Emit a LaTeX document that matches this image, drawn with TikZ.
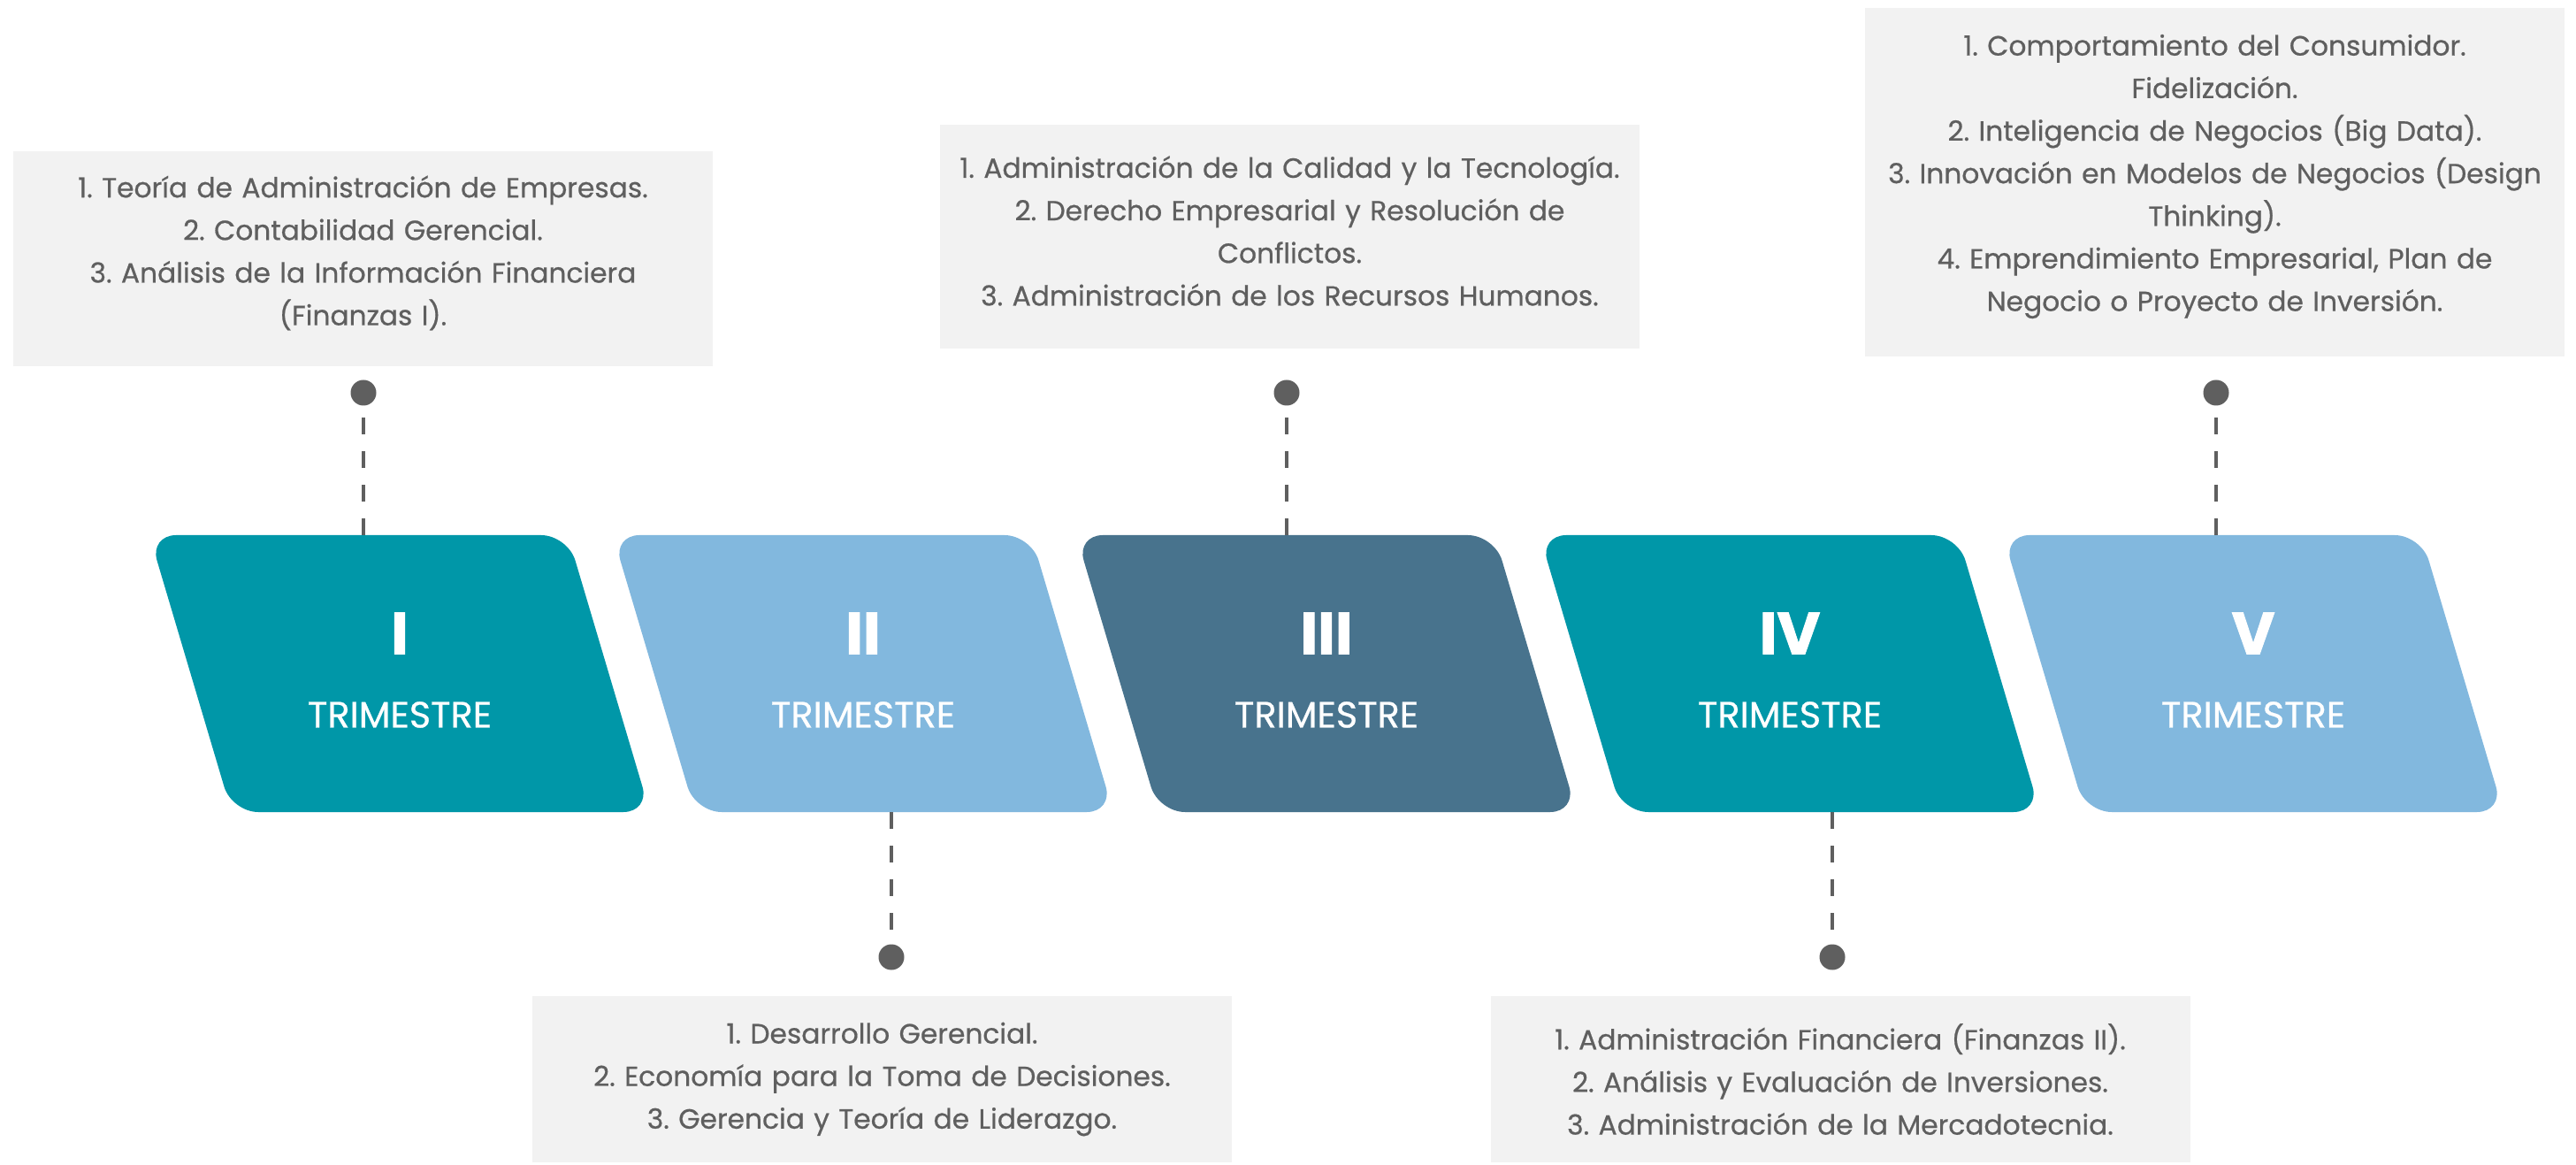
\documentclass[tikz,border=0pt]{standalone}
\usepackage{fontspec}
\setmainfont{Poppins}
\newfontfamily\listfont{Poppins}[FakeBold=0.6]
\newfontfamily\numfont{Poppins}[FakeBold=1.5]
\definecolor{tealc}{HTML}{0097A8}
\definecolor{skyc}{HTML}{82B8DE}
\definecolor{slatec}{HTML}{48738D}
\definecolor{boxc}{HTML}{F2F2F2}
\definecolor{inkc}{HTML}{5F5F5F}
\newcommand\boxpad{\par\vspace{0.13cm}}
\frenchspacing
\begin{document}
\begin{tikzpicture}[
	termshape/.style={rounded corners=0.3cm},
	numtext/.style={white,font=\numfont\bfseries\fontsize{19}{21}\selectfont},
	semtext/.style={white,font=\listfont\fontsize{11.8}{13}\selectfont},
	dot/.style={circle,fill=inkc,inner sep=0pt,minimum size=0.29cm},
	dashline/.style={inkc,line width=0.047cm,dash pattern=on 0.19cm off 0.19cm},
	listbox/.style={fill=boxc,text=inkc,minimum width=7.91cm,inner xsep=0pt,text width=7.7cm,align=center,
		font=\listfont\fontsize{8.9}{13.7}\selectfont},
	topbox/.style={listbox,execute at end node=\boxpad}]
	\useasboundingbox[fill=white] (0,0) rectangle (29.13,13.16);
	\fill[tealc,termshape] (1.69,7.11) -- (6.42,7.11) -- (7.35,3.98) -- (2.62,3.98) -- cycle;
	\fill[skyc,termshape] (6.93,7.11) -- (11.66,7.11) -- (12.59,3.98) -- (7.86,3.98) -- cycle;
	\fill[slatec,termshape] (12.17,7.11) -- (16.90,7.11) -- (17.83,3.98) -- (13.10,3.98) -- cycle;
	\fill[tealc,termshape] (17.41,7.11) -- (22.14,7.11) -- (23.07,3.98) -- (18.34,3.98) -- cycle;
	\fill[skyc,termshape] (22.65,7.11) -- (27.38,7.11) -- (28.31,3.98) -- (23.58,3.98) -- cycle;
	\node[numtext] (n1) at (4.52,6.00) {I};
	\node[semtext] (s1) at (4.52,5.08) {TRIMESTRE};
	\node[numtext] (n2) at (9.76,6.00) {II};
	\node[semtext] (s2) at (9.76,5.08) {TRIMESTRE};
	\node[numtext] (n3) at (15.00,6.00) {III};
	\node[semtext] (s3) at (15.00,5.08) {TRIMESTRE};
	\node[numtext] (n4) at (20.24,6.00) {IV};
	\node[semtext] (s4) at (20.24,5.08) {TRIMESTRE};
	\node[numtext] (n5) at (25.48,6.00) {V};
	\node[semtext] (s5) at (25.48,5.08) {TRIMESTRE};
	\coordinate (e1) at (4.11,7.11);
	\coordinate (e2) at (10.08,3.98);
	\coordinate (e3) at (14.55,7.11);
	\coordinate (e4) at (20.72,3.98);
	\coordinate (e5) at (25.06,7.11);
	\node[dot] (d1) at (4.11,8.72) {};
	\node[dot] (d2) at (10.08,2.34) {};
	\node[dot] (d3) at (14.55,8.72) {};
	\node[dot] (d4) at (20.72,2.34) {};
	\node[dot] (d5) at (25.06,8.72) {};
	\draw[dashline] (e1) -- (d1);
	\draw[dashline] (e2) -- (d2);
	\draw[dashline] (e3) -- (d3);
	\draw[dashline] (e4) -- (d4);
	\draw[dashline] (e5) -- (d5);
	\node[topbox,minimum height=2.43cm] (b1) at (4.105,10.235) {1. Teoría de Administración de Empresas.\\ 2. Contabilidad Gerencial.\\ 3. Análisis de la Información Financiera\\ (Finanzas I).};
	\node[listbox,minimum height=1.88cm] (b2) at (9.975,0.96) {1. Desarrollo Gerencial.\\ 2. Economía para la Toma de Decisiones.\\ 3. Gerencia y Teoría de Liderazgo.};
	\node[topbox,minimum height=2.53cm] (b3) at (14.585,10.485) {1. Administración de la Calidad y la Tecnología.\\ 2. Derecho Empresarial y Resolución de\\ Conflictos.\\ 3. Administración de los Recursos Humanos.};
	\node[listbox,minimum height=1.88cm] (b4) at (20.81,0.96) {1. Administración Financiera (Finanzas II).\\ 2. Análisis y Evaluación de Inversiones.\\ 3. Administración de la Mercadotecnia.};
	\node[topbox,minimum height=3.94cm] (b5) at (25.045,11.10) {1. Comportamiento del Consumidor.\\ Fidelización.\\ 2. Inteligencia de Negocios (Big Data).\\ 3. Innovación en Modelos de Negocios (Design\\ Thinking).\\ 4. Emprendimiento Empresarial, Plan de\\ Negocio o Proyecto de Inversión.};
\end{tikzpicture}
\end{document}
